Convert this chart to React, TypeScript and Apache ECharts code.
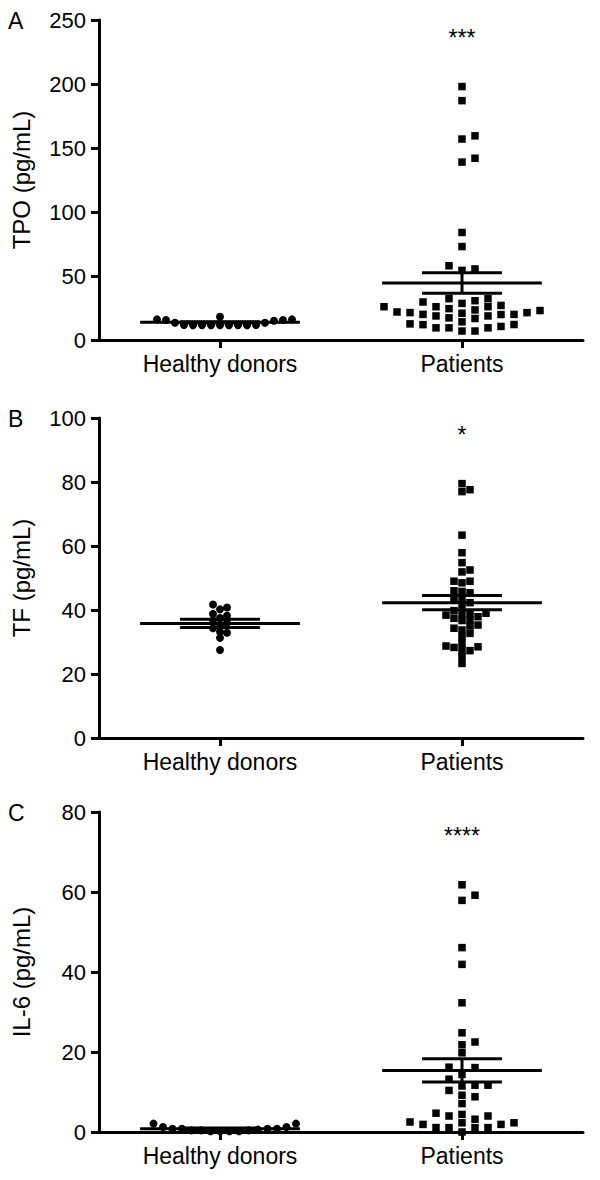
import React, { useEffect, useRef } from "react";
import * as echarts from "echarts";

// ---------- data ----------
const groupNames = ["Healthy donors", "Patients"];
const groupCenters = [1, 3];
const panelLetters = ["A", "B", "C"];
const yTitles = ["TPO (pg/mL)", "TF (pg/mL)", "IL-6 (pg/mL)"];
const yMax = [250, 100, 80];
const yStep = [50, 20, 20];
const sigMarks = ["***", "*", "****"];
const sigLevels = [236, 94.8, 74];

const tpoHealthy = [11.5, 11.5, 18.2, 16.1, 11.5, 15.6, 15.0, 11.5, 13.5, 11.5, 16.1, 13.5, 11.7, 11.5, 15.6, 11.7, 11.5];
const tpoPatients = [198, 187, 157, 159.5, 142, 139, 84, 73, 54.4, 55.5, 58, 29.7, 32.3, 32.3, 30.7, 26, 26, 27, 28.6, 24.5, 26, 20.9, 19.9, 20, 18.8, 21.4, 21.9, 23.5, 23, 20, 21.4, 18.8, 17.3, 14.2, 16.8, 9.5, 9.5, 9.5, 10.6, 12.6, 12, 7, 12.1, 7];
const tfHealthy = [41.7, 40.8, 40.2, 38.8, 38.2, 37.5, 36.8, 36.0, 35.5, 34.3, 33.2, 32.9, 31.3, 27.5];
const tfPatients = [79.5, 77.6, 77.0, 63.4, 57.9, 54.8, 51.9, 52.5, 49.0, 49.0, 48.5, 46.0, 45.4, 45.8, 43.6, 43.6, 42.3, 41.6, 39.8, 39.0, 39.0, 38.75, 38.4, 37.9, 37.4, 36.9, 36.7, 35.3, 35.0, 34.3, 33.75, 32.7, 31.7, 29.6, 28.75, 28.5, 28.3, 27.3, 27.3, 25.4, 23.3];
const il6Healthy = [0.6, 0.2, 2.1, 0.2, 1.25, 0.8, 0.4, 0.4, 0.8, 2.1, 0.8, 0.4, 0.2, 1.25, 0.8, 0.2];
const il6Patients = [61.8, 57.9, 59.2, 46.1, 41.9, 32.3, 24.8, 22.5, 21.8, 19.8, 16.1, 16.2, 14.4, 13.2, 11.5, 11.7, 11.7, 10.4, 9.2, 8.8, 7.1, 4.4, 4.0, 4.7, 4.0, 1.9, 2.5, 2.3, 2.3, 3.2, 1.9, 1.1, 1.1, 1.1, 1.1, 0];

const tpoMean = [13.8, 44.6];
const tpoSem = [0.5, 8.0];
const tfMean = [35.8, 42.3];
const tfSem = [1.3, 2.2];
const il6Mean = [0.8, 15.4];
const il6Sem = [0.2, 2.9];

const panelValues = [
  [tpoHealthy, tpoPatients],
  [tfHealthy, tfPatients],
  [il6Healthy, il6Patients],
];
const panelMeans = [tpoMean, tfMean, il6Mean];
const panelSems = [tpoSem, tfSem, il6Sem];

// ---------- layout / style ----------
const FONT = "'Liberation Sans', Arial, sans-serif";
const gridTops = [20, 418, 812];
const GRID_LEFT = 99;
const GRID_W = 484;
const GRID_H = 320;
const letterTops = [9, 407, 801];
// swarm spacing (px): [dx, dy, step] per panel / group
const swarmStyle = [
  [[9, 8, 4.5], [13, 8, 6.5]],
  [[7, 6, 3.5], [8, 6, 4]],
  [[9.5, 8, 4.75], [13, 8, 6.5]],
];

function swarm(pys: number[], dx: number, dy: number, step: number): number[] {
  const order = pys.map((_, i) => i).sort((a, b) => pys[b] - pys[a]);
  const placed: { x: number; y: number }[] = [];
  const res = new Array(pys.length).fill(0);
  for (const i of order) {
    const y = pys[i];
    for (let k = 0; k < 400; k++) {
      const cand = k === 0 ? 0 : (k % 2 === 1 ? 1 : -1) * Math.ceil(k / 2) * step;
      const hit = placed.some((p) => Math.abs(p.x - cand) < dx && Math.abs(p.y - y) < dy);
      if (!hit) {
        res[i] = cand;
        placed.push({ x: cand, y });
        break;
      }
    }
  }
  return res;
}

function buildOption(xs: number[][][] | null) {
  const grid: any[] = [];
  const xAxis: any[] = [];
  const yAxis: any[] = [];
  const series: any[] = [];
  const axisLine = { show: true, lineStyle: { color: "#000", width: 3 } };
  const axisTick = { show: true, length: 8, lineStyle: { color: "#000", width: 3 } };

  for (let p = 0; p < 3; p++) {
    grid.push({ left: GRID_LEFT, top: gridTops[p], width: GRID_W, height: GRID_H });
    xAxis.push({
      type: "category",
      gridIndex: p,
      data: groupNames,
      boundaryGap: true,
      axisLine,
      axisTick: { ...axisTick, alignWithLabel: true },
      axisLabel: { color: "#000", fontSize: 23, fontFamily: FONT, margin: 12 },
      splitLine: { show: false },
    });
    xAxis.push({ type: "value", gridIndex: p, min: 0, max: 4, show: false, splitLine: { show: false } });
    yAxis.push({
      type: "value",
      gridIndex: p,
      min: 0,
      max: yMax[p],
      interval: yStep[p],
      name: yTitles[p],
      nameLocation: "middle",
      nameRotate: 90,
      nameGap: 66,
      nameTextStyle: { color: "#000", fontSize: 24, fontFamily: FONT },
      axisLine,
      axisTick,
      axisLabel: { color: "#000", fontSize: 22, fontFamily: FONT, margin: 13 },
      splitLine: { show: false },
    });
    for (let g = 0; g < 2; g++) {
      const vals = panelValues[p][g];
      series.push({
        type: "scatter",
        xAxisIndex: 2 * p + 1,
        yAxisIndex: p,
        symbol: g === 0 ? "circle" : "rect",
        symbolSize: g === 0 ? 8 : 7.5,
        itemStyle: { color: "#000", opacity: 1 },
        emphasis: { disabled: true },
        data: vals.map((v, i) => [xs ? xs[p][g][i] : groupCenters[g], v]),
        z: 2,
      });
    }
    series.push({
      type: "custom",
      xAxisIndex: 2 * p + 1,
      yAxisIndex: p,
      z: 3,
      data: [0, 1].map((g) => [groupCenters[g], panelMeans[p][g], panelSems[p][g]]),
      renderItem: (params: any, api: any) => {
        const x = api.value(0);
        const m = api.value(1);
        const e = api.value(2);
        const c = api.coord([x, m]);
        const l = api.coord([x - 0.66, m]);
        const r = api.coord([x + 0.66, m]);
        const up = api.coord([x, m + e]);
        const lo = api.coord([x, m - e]);
        const sl = api.coord([x - 0.33, m])[0];
        const sr = api.coord([x + 0.33, m])[0];
        const st = { stroke: "#000", lineWidth: 3 };
        return {
          type: "group",
          children: [
            { type: "line", shape: { x1: l[0], y1: c[1], x2: r[0], y2: c[1] }, style: st },
            { type: "line", shape: { x1: c[0], y1: up[1], x2: c[0], y2: lo[1] }, style: st },
            { type: "line", shape: { x1: sl, y1: up[1], x2: sr, y2: up[1] }, style: st },
            { type: "line", shape: { x1: sl, y1: lo[1], x2: sr, y2: lo[1] }, style: st },
          ],
        };
      },
    });
    series.push({
      type: "scatter",
      xAxisIndex: 2 * p + 1,
      yAxisIndex: p,
      symbolSize: 0,
      itemStyle: { color: "#000", opacity: 1 },
      emphasis: { disabled: true },
      data: [[groupCenters[1], sigLevels[p]]],
      label: {
        show: true,
        position: "inside",
        formatter: sigMarks[p],
        color: "#000",
        opacity: 1,
        fontSize: 23,
        fontFamily: FONT,
      },
      silent: true,
    });
  }

  return {
    animation: false,
    backgroundColor: "#fff",
    grid,
    xAxis,
    yAxis,
    series,
    graphic: panelLetters.map((t, p) => ({
      type: "text",
      left: 8,
      top: letterTops[p],
      style: { text: t, fill: "#000", fontSize: 23, fontFamily: FONT },
    })),
  };
}

export default function App() {
  const ref = useRef<HTMLDivElement>(null);
  useEffect(() => {
    document.body.style.margin = "0";
    if (!ref.current) return;
    const chart = echarts.init(ref.current, undefined, { renderer: "svg" });
    chart.setOption(buildOption(null));
    const xs: number[][][] = [];
    for (let p = 0; p < 3; p++) {
      xs.push([]);
      for (let g = 0; g < 2; g++) {
        const si = 4 * p + g;
        const vals = panelValues[p][g];
        const pix = vals.map((v) => chart.convertToPixel({ seriesIndex: si }, [groupCenters[g], v]) as number[]);
        const [dx, dy, step] = swarmStyle[p][g];
        const offs = swarm(pix.map((q) => q[1]), dx, dy, step);
        xs[p].push(
          vals.map((v, i) => (chart.convertFromPixel({ seriesIndex: si }, [pix[i][0] + offs[i], pix[i][1]]) as number[])[0])
        );
      }
    }
    chart.setOption(buildOption(xs), true);
    return () => chart.dispose();
  }, []);
  return <div ref={ref} style={{ width: 600, height: 1180 }} />;
}
